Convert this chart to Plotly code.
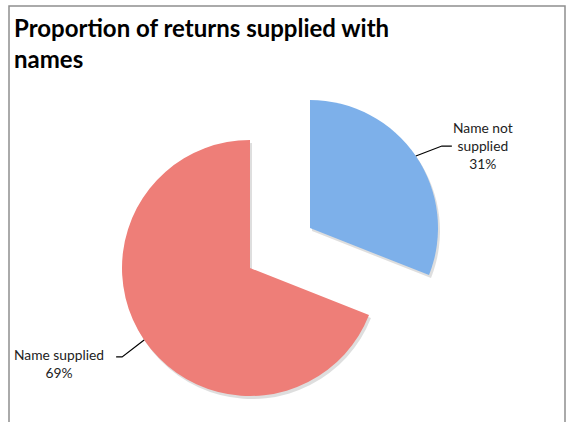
import math
import plotly.graph_objects as go

# ---- data ----
labels = ["Name not supplied", "Name supplied"]
values = [31, 69]
label_text = ["Name not<br>supplied<br>31%", "Name supplied<br>69%"]
title_text = "Proportion of returns supplied with<br>names"

W, H = 567, 422
FONT = "Lato"
colors = ["#7db0ea", "#ee7e78"]

# geometry (pixels)
R = 128
red_c = (250, 268)
blue_c = (310, 228)


def px(x):
    return x / W


def py(y):
    return 1 - y / H


def dom(c):
    return dict(x=[px(c[0] - R), px(c[0] + R)], y=[py(c[1] + R), py(c[1] - R)])


fig = go.Figure()

# subtle shadow layers
for c, keep in ((red_c, 1), (blue_c, 0)):
    sc = (c[0] + 2, c[1] + 3)
    fig.add_trace(go.Pie(
        labels=labels, values=values, sort=False, direction="clockwise", rotation=0,
        marker=dict(colors=["rgba(0,0,0,0.13)" if i == keep else "rgba(0,0,0,0)" for i in range(2)],
                    line=dict(width=0)),
        textinfo="none", hoverinfo="skip", showlegend=False, domain=dom(sc)))

# red slice (not pulled)
fig.add_trace(go.Pie(
    labels=labels, values=values, sort=False, direction="clockwise", rotation=0,
    marker=dict(colors=["rgba(0,0,0,0)", colors[1]], line=dict(width=0)),
    textinfo="none", showlegend=False, domain=dom(red_c)))
# blue slice (exploded)
fig.add_trace(go.Pie(
    labels=labels, values=values, sort=False, direction="clockwise", rotation=0,
    marker=dict(colors=[colors[0], "rgba(0,0,0,0)"], line=dict(width=0)),
    textinfo="none", showlegend=False, domain=dom(blue_c)))

# leader lines and labels, computed from the slice mid-angles
total = sum(values)
cum = 0
mids = []
for v in values:
    mids.append((cum + v / 2) / total * 2 * math.pi)
    cum += v

shapes = []
annotations = []
centers = [blue_c, red_c]
for i, (m, c) in enumerate(zip(mids, centers)):
    sx = c[0] + R * math.sin(m)
    sy = c[1] - R * math.cos(m)
    if i == 0:
        ex, ey = sx + 26, sy - 10
        hx = ex + 10
        tx, ty, anchor = 483, 145, "center"
    else:
        ex, ey = sx - 22, sy + 17
        hx = ex - 6
        tx, ty, anchor = 59, 363, "center"
    path = f"M {px(sx)} {py(sy)} L {px(ex)} {py(ey)} L {px(hx)} {py(ey)}"
    shapes.append(dict(type="path", xref="paper", yref="paper", path=path,
                       line=dict(color="black", width=1.2)))
    annotations.append(dict(text=label_text[i], x=px(tx), y=py(ty), xref="paper", yref="paper",
                            xanchor=anchor, yanchor="middle", showarrow=False, align="center",
                            font=dict(family=FONT, size=13.8, color="#222")))

# chart border
shapes.append(dict(type="rect", xref="paper", yref="paper", x0=px(9), x1=px(565),
                   y0=-0.05, y1=py(6), line=dict(color="#8f8f8f", width=1.5)))

annotations.append(dict(text=title_text, x=px(12), y=py(11), xref="paper", yref="paper",
                        xanchor="left", yanchor="top", showarrow=False, align="left",
                        font=dict(family=FONT, size=24, color="black", weight="bold")))

fig.update_layout(
    width=W, height=H, margin=dict(l=0, r=0, t=0, b=0),
    paper_bgcolor="white", plot_bgcolor="white",
    shapes=shapes, annotations=annotations, showlegend=False,
)

fig.write_html("out.html", config={"displayModeBar": False},
               post_script="document.body.style.margin='0';document.body.style.overflow='hidden';")
